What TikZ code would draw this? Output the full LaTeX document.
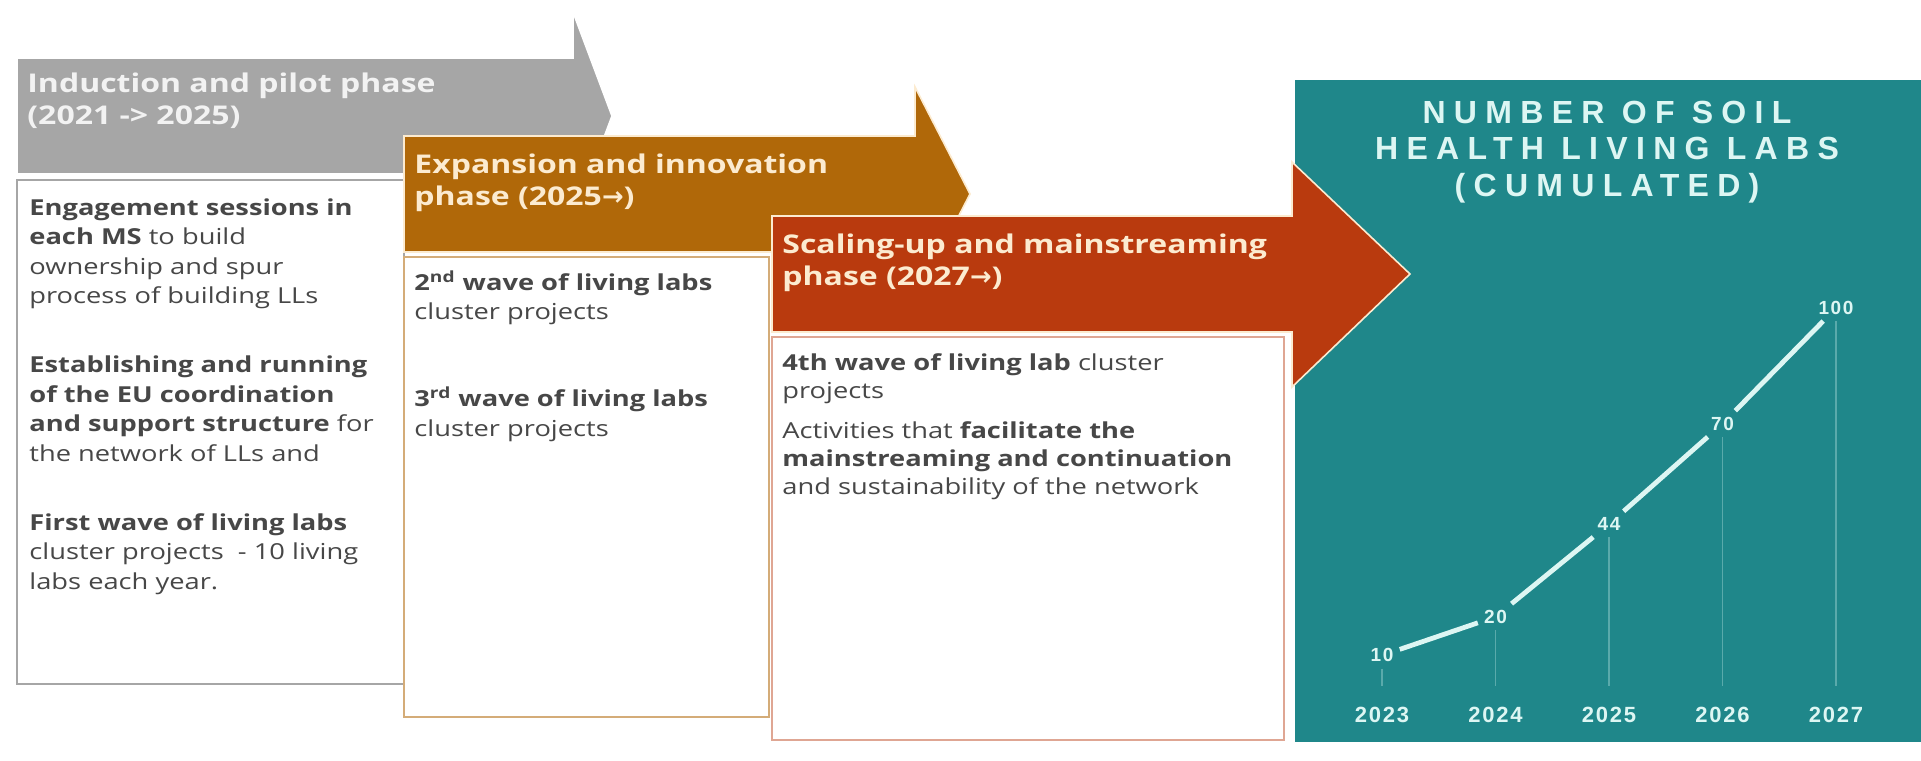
\documentclass[tikz,border=0pt]{standalone}
\usepackage{fontspec}
\usepackage{xcolor}
\usepackage{tikz}
\setmainfont[FakeStretch=1.24]{Open Sans}
\newfontfamily\chartfont[LetterSpace=8]{Liberation Sans}
\newfontfamily\titlefont[LetterSpace=26]{Liberation Sans}
\newfontfamily\arrowfont{DejaVu Sans}
\usetikzlibrary{positioning, calc}
\definecolor{pilotgray}{HTML}{A6A6A6}
\definecolor{expandorange}{HTML}{B06809}
\definecolor{scalered}{HTML}{B93A0E}
\definecolor{labteal}{HTML}{1F878A}
\definecolor{cream}{HTML}{FCEBD0}
\definecolor{bodytext}{HTML}{474747}
\definecolor{chartline}{HTML}{DDF6F3}
\definecolor{stemline}{HTML}{5AAAAB}
\newcommand{\phasearrow}{{\arrowfont\char"2192}}

\begin{document}
\begin{tikzpicture}[x=0.5pt, y=-0.5pt,
    phasetext/.style={anchor=west, align=left, inner sep=0pt, text=cream,
      font=\bfseries\fontsize{12.9}{16}\selectfont},
    boxtext/.style={anchor=north west, align=left, inner sep=0pt, text=bodytext,
      font=\fontsize{11}{14.75}\selectfont},
    yearlabel/.style={text=chartline, font=\chartfont\bfseries\fontsize{11}{13}\selectfont},
    vallabel/.style={text=chartline, inner sep=3pt, font=\chartfont\bfseries\fontsize{9.5}{11}\selectfont},
    stem/.style={stemline, line width=0.6pt},
    trend/.style={chartline, line width=2.4pt}]
    \useasboundingbox (0,0) rectangle (1921,760);

    % Teal panel
    \fill[labteal] (1295,80) rectangle (1921,742);
    \node[align=center, text=chartline, font=\titlefont\bfseries\fontsize{16}{18.4}\selectfont]
        (title) at (1607,152) {NUMBER OF SOIL\\HEALTH LIVING LABS\\(CUMULATED)};

    % Induction phase
    \filldraw[pilotgray, draw=white, line width=0.8pt] (17,58) -- (573,58) -- (573,12) -- (612,116)
        -- (573,220) -- (573,174) -- (17,174) -- cycle;
    \node[phasetext, text=gray!10] (pilot) at (27,101) {Induction and pilot phase\\(2021 -> 2025)};
    \filldraw[fill=white, draw=pilotgray, line width=1pt] (17,180) rectangle (404,684);
    \node[boxtext] (pilotbox) at (29,198) {%
        \textbf{Engagement sessions in}\\\textbf{each MS} to build\\ownership and spur\\process of building LLs\\[19.75pt]
        \textbf{Establishing and running}\\\textbf{of the EU coordination}\\\textbf{and support structure} for\\the network of LLs and\\[19.75pt]
        \textbf{First wave of living labs}\\cluster projects\ \ - 10 living\\labs each year.};

    % Expansion phase
    \filldraw[expandorange, draw=cream, line width=0.8pt] (404,136) -- (915,136) -- (915,87) -- (970,194)
        -- (915,301) -- (915,252) -- (404,252) -- cycle;
    \node[phasetext] (expansion) at (414,183) {Expansion and innovation\\phase (2025\phasearrow)};
    \filldraw[fill=white, draw=expandorange!55, line width=1pt] (404,257) rectangle (769,717);
    \node[boxtext] (expansionbox) at (414,270) {%
        \textbf{2\textsuperscript{nd} wave of living labs}\\cluster projects\\[28.75pt]
        \textbf{3\textsuperscript{rd} wave of living labs}\\cluster projects};

    % Scaling-up phase
    \filldraw[scalered, draw=cream, line width=0.8pt] (772,216) -- (1292,216) -- (1292,162) -- (1410,274)
        -- (1292,387) -- (1292,332) -- (772,332) -- cycle;
    \node[phasetext] (scaling) at (782,263) {Scaling-up and mainstreaming\\phase (2027\phasearrow)};
    \filldraw[fill=white, draw=scalered!45, line width=1pt] (772,337) rectangle (1284,740);
    \node[boxtext, font=\fontsize{11}{14}\selectfont] (scalingbox) at (782,353) {%
        \textbf{4th wave of living lab} cluster\\projects\\[6pt]
        Activities that \textbf{facilitate the}\\\textbf{mainstreaming and continuation}\\and sustainability of the network};

    % Chart
    \coordinate (base) at (1382,686);
    \foreach \yr/\val [count=\i from 0] in {2023/10, 2024/20, 2025/44, 2026/70, 2027/100} {
        \node[yearlabel] (y\yr) at ({1382+113.5*\i},715) {\yr};
        \node[vallabel] (v\yr) at ({1382+113.5*\i},{694-3.86*\val}) {\val};
        \draw[stem] (v\yr) -- (v\yr |- base);
    }
    \foreach \a/\b in {2023/2024, 2024/2025, 2025/2026, 2026/2027}
        \draw[trend] (v\a) -- (v\b);
\end{tikzpicture}
\end{document}
